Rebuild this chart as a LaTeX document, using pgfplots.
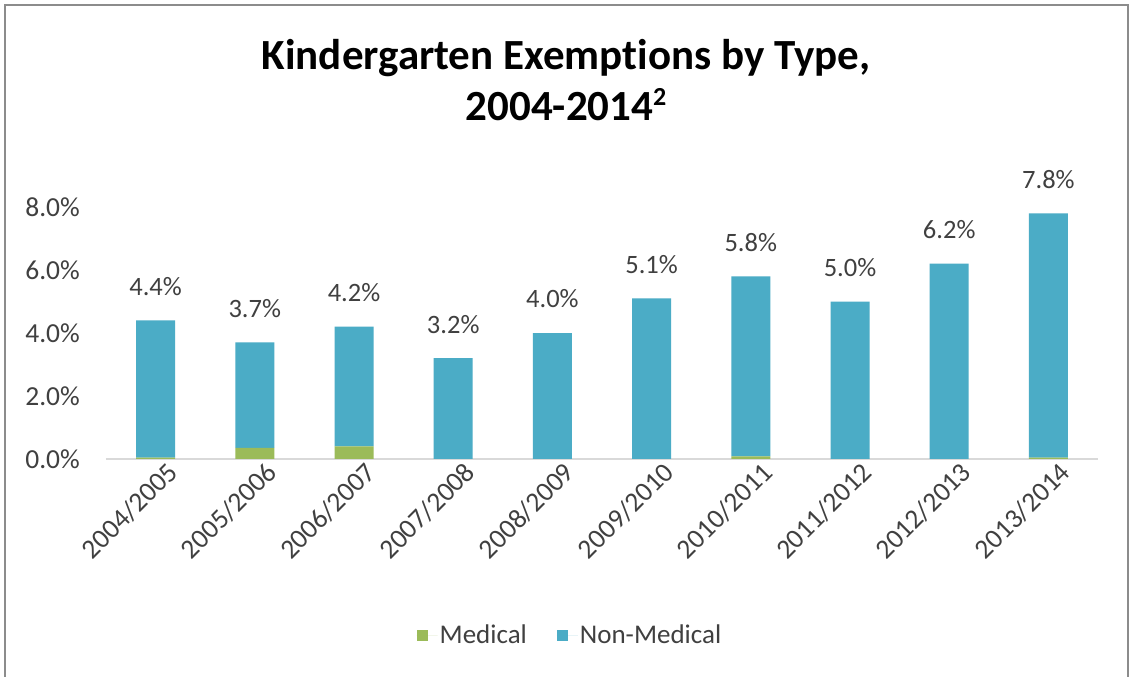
\documentclass[border=0pt]{standalone}
\usepackage{pgfplots}
\pgfplotsset{compat=1.18}
\usepackage{pgfplotstable}
\usepackage{fontspec}
\setmainfont{Carlito}[Ligatures=NoCommon]
\definecolor{med}{HTML}{9BBB59}
\definecolor{nonmed}{HTML}{4BACC6}
\definecolor{txt}{HTML}{404040}
\pgfplotstableread{
x med non tot
0 0.04 4.36 4.4
1 0.35 3.35 3.7
2 0.40 3.80 4.2
3 0.00 3.20 3.2
4 0.00 4.00 4.0
5 0.00 5.10 5.1
6 0.08 5.72 5.8
7 0.00 5.00 5.0
8 0.00 6.20 6.2
9 0.04 7.76 7.8
}\datatable
\pgfplotsset{
  base/.style={
    at={(106pt,218pt)}, anchor=south west, scale only axis,
    width=992pt, height=283.5pt,
    xmin=-0.5, xmax=9.5, ymin=0, ymax=9,
    bar width=39pt, clip=false,
  }
}
\begin{document}
\begin{tikzpicture}
\useasboundingbox (0pt,0pt) rectangle (1130pt,677pt);
\fill[white] (0pt,0pt) rectangle (1130pt,677pt);
\draw[color=black!45, line width=1.5pt] (5pt,0pt) -- (5pt,672pt) -- (1128pt,672pt) -- (1128pt,0pt);
\node[font=\fontsize{43}{50}\selectfont\bfseries, anchor=base] at (566pt,607pt) {Kindergarten Exemptions by Type,};
\node[font=\fontsize{43}{50}\selectfont\bfseries, anchor=base] at (566pt,556pt) {2004-2014\raisebox{0.36em}{\fontsize{26}{30}\selectfont 2}};
\begin{axis}[
  base,
  ybar stacked,
  axis x line*=bottom, axis y line*=left,
  y axis line style={draw=none},
  x axis line style={draw=black!15, line width=1.2pt, -},
  tick style={draw=none},
  xtick={0,1,2,3,4,5,6,7,8,9},
  xticklabels={2004/2005,2005/2006,2006/2007,2007/2008,2008/2009,2009/2010,2010/2011,2011/2012,2012/2013,2013/2014},
  xticklabel style={rotate=45, anchor=north east, font=\fontsize{27.5}{30}\selectfont, text=txt, inner sep=0pt, xshift=6pt, yshift=-8pt},
  ytick={0,2,4,6,8},
  yticklabel={\pgfmathprintnumber[fixed,fixed zerofill,precision=1]{\tick}\%},
  yticklabel style={font=\fontsize{27.5}{30}\selectfont, text=txt, anchor=east, inner sep=0pt, xshift=-26pt},
  /pgf/number format/assume math mode=true,
  legend style={at={(0.4677,-0.621)}, anchor=center, legend columns=2, draw=none, fill=none,
    font=\fontsize{27}{30}\selectfont, text=txt,
    /tikz/every even column/.append style={column sep=28pt}},
  legend image code/.code={\path (0pt,0pt) -- (21pt,0pt); \fill[#1] (0pt,-5.5pt) rectangle (11pt,5.5pt);},
]
\addplot[fill=med, draw=none] table[x=x, y=med] {\datatable};
\addlegendentry{Medical}
\addplot[fill=nonmed, draw=none] table[x=x, y=non] {\datatable};
\addlegendentry{Non-Medical}
\end{axis}
\begin{axis}[
  base, ybar, hide axis,
  /pgf/number format/assume math mode=true,
  nodes near coords={\pgfmathprintnumber[fixed,fixed zerofill,precision=1]{\pgfplotspointmeta}\%},
  nodes near coords style={font=\fontsize{26.5}{30}\selectfont, text=txt, anchor=base, inner sep=0pt, yshift=25pt},
]
\addplot[fill=none, draw=none] table[x=x, y=tot] {\datatable};
\end{axis}
\end{tikzpicture}
\end{document}
